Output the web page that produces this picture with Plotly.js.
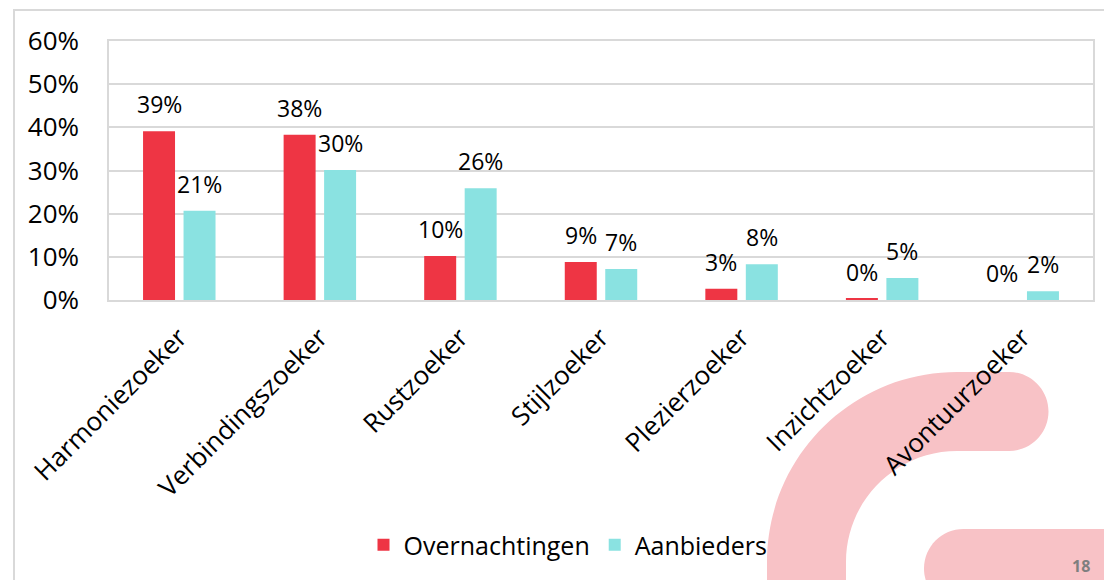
<!DOCTYPE html>
<html>
<head>
<meta charset="utf-8">
<script src="https://cdn.plot.ly/plotly-3.0.1.min.js"></script>
<style>
  html, body { margin: 0; padding: 0; background: #ffffff; }
  #chart { width: 1104px; height: 580px; }
</style>
</head>
<body>
<div id="chart"></div>
<script>
// ---- data ----
const categories = ["Harmoniezoeker", "Verbindingszoeker", "Rustzoeker", "Stijlzoeker", "Plezierzoeker", "Inzichtzoeker", "Avontuurzoeker"];
const overnachtingen = [39.1, 38.3, 10.2, 8.8, 2.6, 0.3, 0.0];
const aanbieders = [20.7, 30.1, 25.9, 7.2, 8.3, 5.1, 2.0];
const seriesNames = ["Overnachtingen", "Aanbieders"];
const yTicks = [0, 10, 20, 30, 40, 50, 60];
const pageNumber = "18";

// ---- style ----
const FONT = "'Open Sans', 'Noto Sans', sans-serif";
const RED = "#EE3544";
const CYAN = "#8AE2E1";
const PINK = "#F8C2C6";
const GRID = "#D9D9D9";

const W = 1104, H = 580;
const M = {l: 109, r: 11, t: 41, b: 280};
const PW = W - M.l - M.r, PH = H - M.t - M.b;
const px = x => (x - M.l) / PW;          // pixel -> paper x
const py = y => (M.t + PH - y) / PH;     // pixel -> paper y
const K = 0.5523;

function P(x, y) { return px(x).toFixed(5) + "," + py(y).toFixed(5); }

// decorative arc band (slide background)
const cx = 957, cy = 562, Ro = 190, Ri = 111, capX = 1009, capR = 39.5, capY = 411.5;
const arcPath = [
  "M" + P(cx - Ro, 640),
  "L" + P(cx - Ro, cy),
  "C" + P(cx - Ro, cy - Ro * K) + " " + P(cx - Ro * K, cy - Ro) + " " + P(cx, cy - Ro),
  "L" + P(capX, capY - capR),
  "C" + P(capX + capR * K, capY - capR) + " " + P(capX + capR, capY - capR * K) + " " + P(capX + capR, capY),
  "C" + P(capX + capR, capY + capR * K) + " " + P(capX + capR * K, capY + capR) + " " + P(capX, capY + capR),
  "L" + P(cx, cy - Ri),
  "C" + P(cx - Ri * K, cy - Ri) + " " + P(cx - Ri, cy - Ri * K) + " " + P(cx - Ri, cy),
  "L" + P(cx - Ri, 640),
  "Z"
].join(" ");
const c2x = 963.5, c2y = 568.5, c2r = 39.5;
const pillPath = [
  "M" + P(1200, c2y - c2r),
  "L" + P(c2x, c2y - c2r),
  "C" + P(c2x - c2r * K, c2y - c2r) + " " + P(c2x - c2r, c2y - c2r * K) + " " + P(c2x - c2r, c2y),
  "C" + P(c2x - c2r, c2y + c2r * K) + " " + P(c2x - c2r * K, c2y + c2r) + " " + P(c2x, c2y + c2r),
  "L" + P(1200, c2y + c2r),
  "Z"
].join(" ");

const fmt = v => Math.round(v) + "%";

const traces = [
  {type: "bar", name: seriesNames[0], x: categories, y: overnachtingen,
   marker: {color: RED}, hoverinfo: "x+y"},
  {type: "bar", name: seriesNames[1], x: categories, y: aanbieders,
   marker: {color: CYAN}, hoverinfo: "x+y"}
];

// data labels (Excel-style, floating above each bar)
const slot = PW / categories.length * (1 - 0.424) / 2;
const annotations = [];
[overnachtingen, aanbieders].forEach((vals, s) => {
  vals.forEach((v, i) => {
    annotations.push({
      x: categories[i], y: v, xref: "x", yref: "y",
      text: fmt(v), showarrow: false,
      xshift: (s === 0 ? -1 : 1) * slot / 2, yshift: 27,
      xanchor: "center", yanchor: "middle",
      font: {family: FONT, size: 23, color: "#000000"}
    });
  });
});
// page number (partly hidden behind the slide edge in the original; kept fully visible here)
annotations.push({
  xref: "paper", yref: "paper", x: px(1070), y: py(579), xanchor: "left", yanchor: "bottom",
  text: "<b>" + pageNumber + "</b>", showarrow: false, font: {family: FONT, size: 16, color: "#7F7F7F"}
});

const layout = {
  width: W, height: H,
  margin: M,
  paper_bgcolor: "#FFFFFF",
  plot_bgcolor: "rgba(0,0,0,0)",
  showlegend: true,
  barmode: "group",
  bargap: 0.424,
  bargroupgap: 0.21,
  font: {family: FONT, color: "#000000"},
  xaxis: {
    type: "category", tickangle: -45, automargin: false,
    tickfont: {family: FONT, size: 26, color: "#000000"},
    showline: true, linecolor: GRID, linewidth: 1.5, mirror: true,
    showgrid: false, ticks: "", ticklabelstandoff: 10
  },
  yaxis: {
    range: [0, 60], tickvals: yTicks, ticktext: yTicks.map(v => v + "%"),
    automargin: false,
    tickfont: {family: FONT, size: 26, color: "#000000"},
    showgrid: true, gridcolor: GRID, gridwidth: 1.5,
    showline: true, linecolor: GRID, linewidth: 1.5, mirror: true,
    zeroline: false, ticks: "", ticklabelstandoff: 23
  },
  legend: {
    orientation: "h", x: px(568), xanchor: "center", y: py(545), yanchor: "middle",
    font: {family: FONT, size: 25, color: "#000000"},
    bgcolor: "rgba(0,0,0,0)", traceorder: "normal"
  },
  annotations: annotations,
  shapes: [
    {type: "rect", xref: "paper", yref: "paper", layer: "below",
     x0: px(14), x1: px(1120), y0: py(600), y1: py(10),
     line: {color: GRID, width: 2}, fillcolor: "rgba(0,0,0,0)"},
    {type: "path", xref: "paper", yref: "paper", layer: "below", path: arcPath,
     fillcolor: PINK, line: {width: 0}},
    {type: "path", xref: "paper", yref: "paper", layer: "below", path: pillPath,
     fillcolor: PINK, line: {width: 0}}
  ]
};

Plotly.newPlot("chart", traces, layout, {displayModeBar: false, responsive: false});
</script>
</body>
</html>
